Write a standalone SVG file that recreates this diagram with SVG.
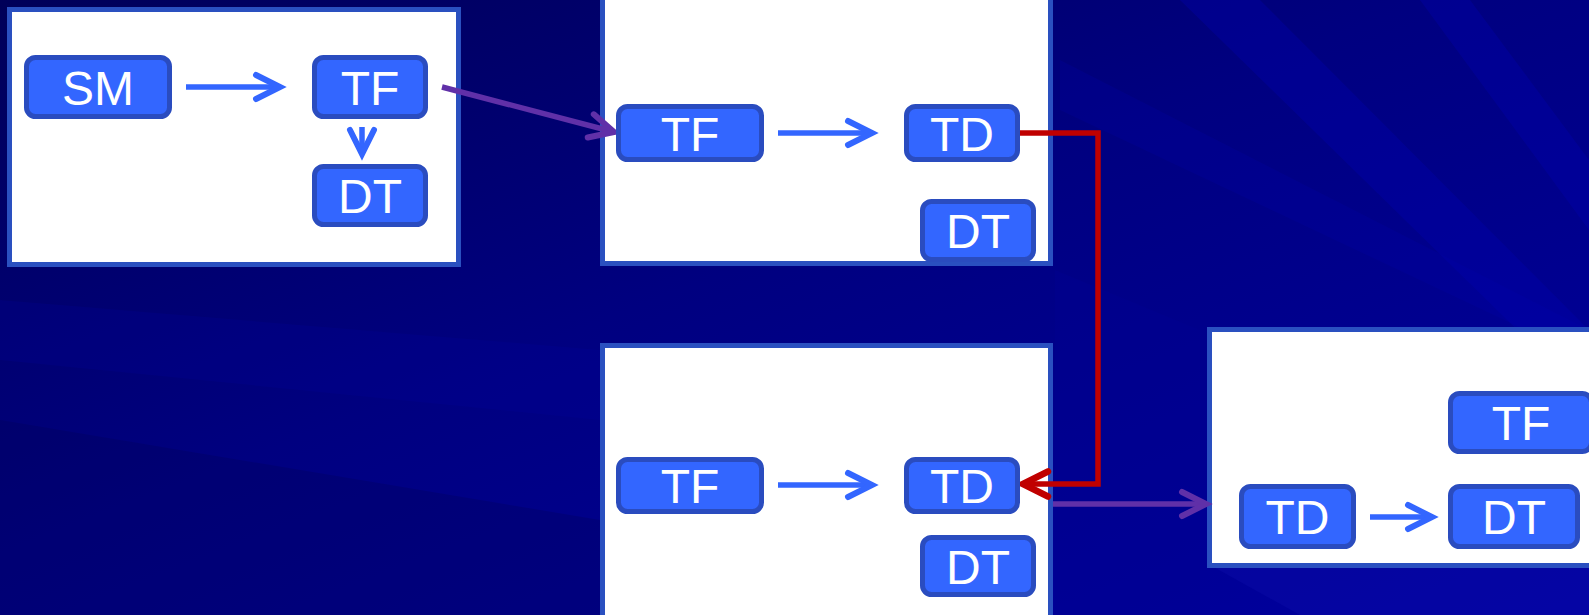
<svg xmlns="http://www.w3.org/2000/svg" width="1589" height="615" viewBox="0 0 1589 615">
  <style>
    .p { fill: #ffffff; stroke: #2a50c0; stroke-width: 5; }
    .n { fill: #3366ff; stroke: #2a4cbf; stroke-width: 5; }
    .t { fill: #ffffff; font-family: "Liberation Sans", Arial, sans-serif; font-size: 48px; text-anchor: middle; }
    .cb { fill: none; stroke: #3366ff; stroke-width: 5.5; stroke-linecap: butt; }
    .cp { fill: none; stroke: #6030a8; stroke-width: 5.5; }
    .cr { fill: none; stroke: #c00000; stroke-width: 5.5; stroke-linejoin: miter; }
  </style>
  <defs>
    <linearGradient id="bg" x1="0" y1="0" x2="1" y2="1">
      <stop offset="0" stop-color="#000058"/>
      <stop offset="0.45" stop-color="#000080"/>
      <stop offset="1" stop-color="#0000a0"/>
    </linearGradient>
    <marker id="ab" markerUnits="userSpaceOnUse" markerWidth="40" markerHeight="40" refX="24" refY="12" orient="auto" overflow="visible">
      <path d="M0,0 L24,12 L0,24" fill="none" stroke="#3366ff" stroke-width="6" stroke-linecap="round" stroke-linejoin="miter"/>
    </marker>
    <marker id="ap" markerUnits="userSpaceOnUse" markerWidth="40" markerHeight="40" refX="24" refY="12" orient="auto" overflow="visible">
      <path d="M0,0 L24,12 L0,24" fill="none" stroke="#6030a8" stroke-width="6" stroke-linecap="round" stroke-linejoin="miter"/>
    </marker>
    <marker id="ar" markerUnits="userSpaceOnUse" markerWidth="40" markerHeight="40" refX="25" refY="12.5" orient="auto" overflow="visible">
      <path d="M0,0 L25,12.5 L0,25" fill="none" stroke="#c00000" stroke-width="6.5" stroke-linecap="round" stroke-linejoin="miter"/>
    </marker>
  </defs>

  <g id="background">
    <rect x="0" y="0" width="1589" height="615" fill="url(#bg)"/>
    <polygon points="0,300 600,350 600,420 0,360" fill="#0000a0" opacity="0.2"/>
    <polygon points="0,420 600,520 600,615 0,615" fill="#000050" opacity="0.25"/>
    <polygon points="1180,0 1260,0 1589,330 1589,400" fill="#0000b0" opacity="0.35"/>
    <polygon points="1420,0 1470,0 1589,160 1589,230" fill="#0000b0" opacity="0.35"/>
    <polygon points="1060,60 1589,330 1589,360 1060,110" fill="#0000b0" opacity="0.2"/>
    <polygon points="1055,270 1200,330 1200,615 1055,615" fill="#000090" opacity="0.4"/>
    <polygon points="1210,565 1589,560 1589,615 1300,615" fill="#1010b0" opacity="0.3"/>
  </g>

  <g id="panel1">
    <rect class="p" x="9.5" y="9.5" width="449" height="255"/>
  </g>
  <g id="panel2">
    <rect class="p" x="602.5" y="-10" width="448" height="273.5"/>
  </g>
  <g id="panel3">
    <rect class="p" x="602.5" y="345.5" width="448" height="285"/>
  </g>
  <g id="panel4">
    <rect class="p" x="1209.5" y="329.5" width="400" height="236"/>
  </g>

  <g id="connectors">
    <line class="cb" x1="186" y1="87" x2="280" y2="87" marker-end="url(#ab)"/>
    <line class="cb" x1="362" y1="127" x2="362" y2="154" marker-end="url(#ab)"/>
    <line class="cb" x1="778" y1="133" x2="872" y2="133" marker-end="url(#ab)"/>
    <line class="cb" x1="778" y1="485" x2="872" y2="485" marker-end="url(#ab)"/>
    <line class="cb" x1="1370" y1="517" x2="1432" y2="517" marker-end="url(#ab)"/>
    <line class="cp" x1="442" y1="87" x2="614" y2="132" marker-end="url(#ap)"/>
    <line class="cp" x1="1053" y1="504" x2="1206" y2="504" marker-end="url(#ap)"/>
    <polyline class="cr" points="1020,133 1098,133 1098,484 1023,484" marker-end="url(#ar)"/>
  </g>

  <g id="p1-sm"><rect class="n" x="26.5" y="57.5" width="143" height="59" rx="9"/><text class="t" x="98" y="104.5">SM</text></g>
  <g id="p1-tf"><rect class="n" x="314.5" y="57.5" width="111" height="59" rx="9"/><text class="t" x="370" y="104.5">TF</text></g>
  <g id="p1-dt"><rect class="n" x="314.5" y="166.5" width="111" height="58" rx="9"/><text class="t" x="370" y="213">DT</text></g>

  <g id="p2-tf"><rect class="n" x="618.5" y="106.5" width="143" height="53" rx="9"/><text class="t" x="690" y="150.5">TF</text></g>
  <g id="p2-td"><rect class="n" x="906.5" y="106.5" width="111" height="53" rx="9"/><text class="t" x="962" y="150.5">TD</text></g>
  <g id="p2-dt"><rect class="n" x="922.5" y="201.5" width="111" height="58" rx="9"/><text class="t" x="978" y="248">DT</text></g>

  <g id="p3-tf"><rect class="n" x="618.5" y="459.5" width="143" height="52" rx="9"/><text class="t" x="690" y="503">TF</text></g>
  <g id="p3-td"><rect class="n" x="906.5" y="459.5" width="111" height="52" rx="9"/><text class="t" x="962" y="503">TD</text></g>
  <g id="p3-dt"><rect class="n" x="922.5" y="537.5" width="111" height="57" rx="9"/><text class="t" x="978" y="583.5">DT</text></g>

  <g id="p4-tf"><rect class="n" x="1450.5" y="393.5" width="141" height="58" rx="9"/><text class="t" x="1521" y="440">TF</text></g>
  <g id="p4-td"><rect class="n" x="1241.5" y="486.5" width="112" height="60" rx="9"/><text class="t" x="1297.5" y="534">TD</text></g>
  <g id="p4-dt"><rect class="n" x="1450.5" y="486.5" width="127" height="60" rx="9"/><text class="t" x="1514" y="534">DT</text></g>
</svg>
